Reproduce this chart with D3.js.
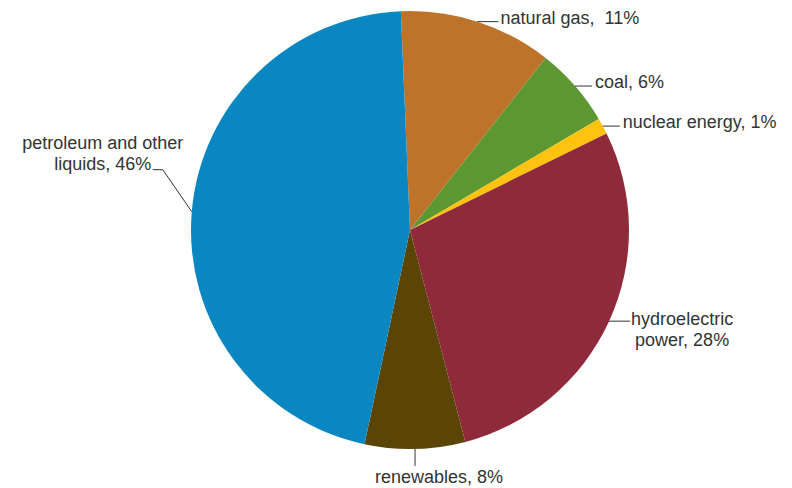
<!DOCTYPE html>
<html><head><meta charset="utf-8">
<script src="https://cdn.jsdelivr.net/npm/d3@7"></script>
<style>body{margin:0;background:#fff}svg{display:block}text{font-family:"Liberation Sans",Arial,sans-serif;font-size:18px;fill:#333;white-space:pre}</style>
</head><body><svg id="c" width="792" height="488"></svg>
<script>
const categories = ["natural gas", "coal", "nuclear energy", "hydroelectric power", "renewables", "petroleum and other liquids"];
const values = [11.3, 5.9, 1.2, 28.2, 7.4, 46.0];
const labels = [["natural gas,  11%"], ["coal, 6%"], ["nuclear energy, 1%"], ["hydroelectric", "power, 28%"], ["renewables, 8%"], ["petroleum and other", "liquids, 46%"]];
const colors = ["#bd732a", "#5d9732", "#ffc20e", "#8f2a3a", "#5a4507", "#0a86c1"];

const svg = d3.select("#c");
const cx = 410, cy = 230, r = 219;
const start = -2.4 * Math.PI / 180;
const pie = d3.pie().sort(null).startAngle(start).endAngle(start + 2 * Math.PI)(values);
const arc = d3.arc().innerRadius(0).outerRadius(r);
const g = svg.append("g").attr("transform", `translate(${cx},${cy})`);
g.selectAll("path").data(pie).join("path").attr("d", arc).attr("fill", (d, i) => colors[i]);

// label layout: leader path relative to the slice's edge point; text offset (first baseline) and anchor
const layout = [
  {pts: e => [e, [e[0] + 21, e[1]]], tx: 23, ty: 2, anchor: "start"},
  {pts: e => [e, [e[0] + 17, e[1]]], tx: 20, ty: 2, anchor: "start"},
  {pts: e => [e, [e[0] + 17, e[1]]], tx: 20, ty: 2, anchor: "start"},
  {pts: e => [e, [e[0] + 21, e[1]]], tx: 73, ty: 4, anchor: "middle"},
  {pts: e => [e, [e[0], e[1] + 17]], tx: 24, ty: 34, anchor: "middle"},
  {pts: e => [e, [e[0] - 29, e[1] - 42], [e[0] - 39, e[1] - 42]], tx: -89, ty: -63, anchor: "middle"}
];
const lab = g.append("g");
pie.forEach((d, i) => {
  const a = (d.startAngle + d.endAngle) / 2;
  const e = [r * Math.sin(a), -r * Math.cos(a)];
  const L = layout[i];
  lab.append("path").attr("d", d3.line()(L.pts(e))).attr("fill", "none").attr("stroke", "#333").attr("stroke-width", 1);
  const t = lab.append("text").attr("text-anchor", L.anchor)
    .attr("x", e[0] + L.tx).attr("y", e[1] + L.ty);
  labels[i].forEach((s, k) => t.append("tspan").attr("x", e[0] + L.tx).attr("dy", k ? 21 : 0).text(s));
});
</script></body></html>
